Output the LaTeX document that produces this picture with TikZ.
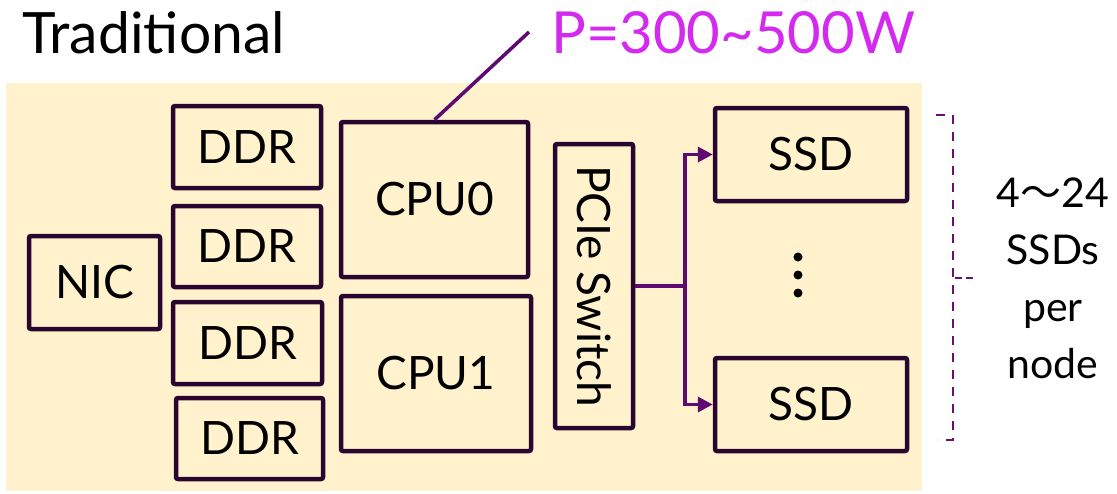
\documentclass[tikz,border=0pt]{standalone}
\usepackage{fontspec}
\setmainfont{Lato}
\newfontfamily\cjk{Noto Sans CJK SC}
\usetikzlibrary{arrows.meta}
\definecolor{bgc}{HTML}{FFF2CC}
\definecolor{edgec}{HTML}{2A0530}
\definecolor{connc}{HTML}{5E0A70}
\definecolor{magc}{HTML}{D42AF0}
\definecolor{brc}{HTML}{6A1070}
\tikzset{
  box/.style={draw=edgec, line width=4.5pt, rounded corners=2pt, inner sep=0pt, outer sep=2.25pt,
    font=\fontsize{46}{52}\selectfont, text=black},
  conn/.style={draw=connc, line width=3.5pt},
  arr/.style={conn, -{Triangle[length=15pt,width=15pt]}},
  bigtext/.style={inner sep=0pt, anchor=base west},
  brline/.style={brc, line width=2pt},
}
\begin{document}
\begin{tikzpicture}[x=1pt,y=-1pt]
\useasboundingbox (0,0) rectangle (1117,493);
\fill[bgc] (6,83) rectangle (922,491);
\node[bigtext, font=\fontsize{57}{62}\selectfont] (title) at (22,53) {Traditional};
\node[bigtext, text=magc, font=\fontsize{58}{64}\selectfont] (power) at (551,53) {P=300\textasciitilde 500W};
\node[box, minimum width=131pt, minimum height=93pt] (nic) at (94.5,282.5) {NIC};
\node[box, minimum width=148pt, minimum height=82pt] (ddr1) at (247,147) {DDR};
\node[box, minimum width=148pt, minimum height=81pt] (ddr2) at (247,246.5) {DDR};
\node[box, minimum width=149pt, minimum height=82pt] (ddr3) at (247.5,343) {DDR};
\node[box, minimum width=147pt, minimum height=81pt] (ddr4) at (249.5,438.5) {DDR};
\node[box, minimum width=187pt, minimum height=155pt] (cpu0) at (434.5,199.5) {CPU0};
\node[box, minimum width=190pt, minimum height=155pt] (cpu1) at (436,373.5) {CPU1};
\node[box, minimum width=78pt, minimum height=284pt] (pcie) at (594,286) {\rotatebox{-90}{PCIe Switch}};
\node[box, minimum width=192pt, minimum height=93pt] (ssd1) at (811,154.5) {SSD};
\node[box, minimum width=192pt, minimum height=93pt] (ssd2) at (811,404.5) {SSD};
\coordinate (jn) at (685,286);
\coordinate (lead) at (529,32);
\draw[conn] (cpu0.north) -- (lead);
\draw[conn] (pcie.east) -- (jn);
\draw[arr] (jn) |- (ssd1.west);
\draw[arr] (jn) |- (ssd2.west);
\foreach \yy in {257,275,293} \fill (798,\yy) circle (4.5pt);
\draw[brline, dash pattern=on 9pt off 8pt] (936,115) -- (953,115) -- (953,440) -- (938,440);
\draw[brline] (955,278) -- (962,278) (966,278) -- (973,278);
\node[inner sep=0pt, anchor=base, align=center, font=\fontsize{41}{57}\selectfont] (count) at (1053,378)
  {4{\cjk ～}24\\SSDs\\per\\node};
\end{tikzpicture}
\end{document}
